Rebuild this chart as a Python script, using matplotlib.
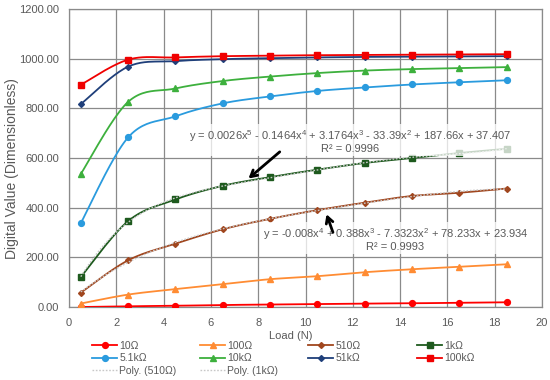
import numpy as np
import matplotlib
matplotlib.use("Agg")
import matplotlib.pyplot as plt
from matplotlib.lines import Line2D

plt.rcParams['font.family'] = ['Liberation Sans', 'DejaVu Sans']
plt.rcParams['mathtext.fontset'] = 'custom'
plt.rcParams['mathtext.rm'] = 'Liberation Sans'
plt.rcParams['mathtext.it'] = 'Liberation Sans:italic'
plt.rcParams['mathtext.bf'] = 'Liberation Sans:bold'

load = [0.5, 2.5, 4.5, 6.5, 8.5, 10.5, 12.5, 14.5, 16.5, 18.5]
r10 = [0, 3, 5, 8, 10, 12, 14, 15, 17, 19]
r100 = [14, 50, 72, 92, 112, 124, 140, 152, 162, 172]
r510 = [58, 188, 255, 313, 355, 390, 420, 447, 460, 477]
r1k = [121, 346, 433, 488, 523, 553, 580, 600, 620, 637]
r5k1 = [338, 683, 768, 820, 848, 870, 884, 896, 905, 913]
r10k = [536, 826, 880, 910, 928, 942, 952, 958, 962, 966]
r51k = [817, 968, 990, 998, 1002, 1005, 1007, 1008, 1009, 1010]
r100k = [895, 996, 1005, 1010, 1012, 1014, 1015, 1016, 1017, 1018]

names = ['10Ω', '100Ω', '510Ω', '1kΩ', '5.1kΩ', '10kΩ', '51kΩ', '100kΩ']
series = [r10, r100, r510, r1k, r5k1, r10k, r51k, r100k]
colors = ['#FF0000', '#FF8C33', '#A0461E', '#1E5A1E', '#2A9BDE', '#3DB03D', '#1F3F7A', '#F00000']
markers = ['o', '^', 'D', 's', 'o', '^', 'D', 's']
msizes = [4.2, 4.5, 3.0, 4.0, 4.2, 4.5, 3.0, 4.5]

eq1 = "y = 0.0026x$^{5}$ - 0.1464x$^{4}$ + 3.1764x$^{3}$ - 33.39x$^{2}$ + 187.66x + 37.407"
r2_1 = "R² = 0.9996"
eq2 = "y = -0.008x$^{4}$ + 0.388x$^{3}$ - 7.3323x$^{2}$ + 78.233x + 23.934"
r2_2 = "R² = 0.9993"


def smooth(x, y, n=24):
    p = np.column_stack([x, y]).astype(float)
    m = len(p)
    out = []
    for i in range(m - 1):
        p0 = p[i - 1] if i > 0 else p[i]
        p1 = p[i]
        p2 = p[i + 1]
        p3 = p[i + 2] if i + 2 < m else p[i + 1]
        b1 = p1 + (p2 - p0) / 6.0
        b2 = p2 - (p3 - p1) / 6.0
        t = np.linspace(0, 1, n)[:, None]
        seg = ((1 - t) ** 3) * p1 + 3 * ((1 - t) ** 2) * t * b1 + 3 * (1 - t) * t ** 2 * b2 + t ** 3 * p2
        out.append(seg if i == 0 else seg[1:])
    s = np.vstack(out)
    return s[:, 0], s[:, 1]


fig = plt.figure(figsize=(5.5, 3.8), dpi=100)
ax = fig.add_axes([69 / 550, 1 - 307 / 380, 473 / 550, 298 / 380])

handles = []
for name, ys, c, mk, ms in zip(names, series, colors, markers, msizes):
    sx, sy = smooth(load, ys)
    ax.plot(sx, sy, color=c, lw=1.3, zorder=3)
    ax.plot(load, ys, linestyle='none', marker=mk, color=c, markersize=ms, zorder=4)
    handles.append(Line2D([], [], color=c, lw=1.3, marker=mk, markersize=ms))

# polynomial trendlines
xx = np.linspace(load[0], load[-1], 200)
c510 = np.polyfit(load, r510, 4)
c1k = np.polyfit(load, r1k, 5)
trend_col = '#C8C8C8'
dots = (0, (1.2, 1.2))
ax.plot(xx, np.polyval(c510, xx), color=trend_col, lw=1.0, linestyle=dots, zorder=5)
ax.plot(xx, np.polyval(c1k, xx), color=trend_col, lw=1.0, linestyle=dots, zorder=5)
h_poly510 = Line2D([], [], color=trend_col, lw=1.0, linestyle=dots)
h_poly1k = Line2D([], [], color=trend_col, lw=1.0, linestyle=dots)

ax.set_xlim(0, 20)
ax.set_ylim(0, 1200)
ax.set_xticks(np.arange(0, 21, 2))
ax.set_yticks(np.arange(0, 1201, 200))
ax.set_yticklabels([f"{v:.2f}" for v in np.arange(0, 1201, 200)])
ax.grid(True, color='#8A8A8A', lw=0.9)
ax.set_axisbelow(True)
for sp in ax.spines.values():
    sp.set_color('#8A8A8A')
    sp.set_linewidth(0.9)
ax.tick_params(length=0, labelsize=8, colors='#595959')
ax.tick_params(axis='y', pad=7)
ax.tick_params(axis='x', pad=8)

ax.set_xlabel('Load (N)', fontsize=8, color='#595959')
ax.xaxis.set_label_coords(0.469, -0.08)
ax.set_ylabel('Digital Value (Dimensionless)', fontsize=10, color='#595959')
ax.yaxis.set_label_coords(-0.106, 0.466)

box = dict(facecolor='white', alpha=0.75, edgecolor='none', pad=1.5)
ax.text(11.9, 667, eq1 + "\n" + r2_1, ha='center', va='center', fontsize=8,
        color='#595959', linespacing=1.0, bbox=box, zorder=6)
ax.text(13.8, 272, eq2 + "\n" + r2_2, ha='center', va='center', fontsize=8,
        color='#595959', linespacing=1.0, bbox=box, zorder=6)

arrow = dict(arrowstyle='->,head_length=0.45,head_width=0.25', color='black', lw=2.0)
ax.annotate('', xy=(7.5, 510), xytext=(9.0, 632), arrowprops=arrow, zorder=7)
ax.annotate('', xy=(10.85, 384), xytext=(11.2, 290), arrowprops=arrow, zorder=7)

cols = [
    ([handles[0], handles[4], h_poly510], [names[0], names[4], 'Poly. (510Ω)'], 92),
    ([handles[1], handles[5], h_poly1k], [names[1], names[5], 'Poly. (1kΩ)'], 200),
    ([handles[2], handles[6]], [names[2], names[6]], 308),
    ([handles[3], handles[7]], [names[3], names[7]], 417),
]
for hs, ls, xpx in cols:
    lg = fig.legend(hs, ls, loc='upper left', bbox_to_anchor=(xpx / 550, 1 - 341 / 380),
                    frameon=False, fontsize=7.5, handlelength=2.4, handletextpad=0.2,
                    borderpad=0, borderaxespad=0, labelspacing=0.22)
    for t in lg.get_texts():
        t.set_color('#595959')

fig.savefig('out.png', dpi=100)
